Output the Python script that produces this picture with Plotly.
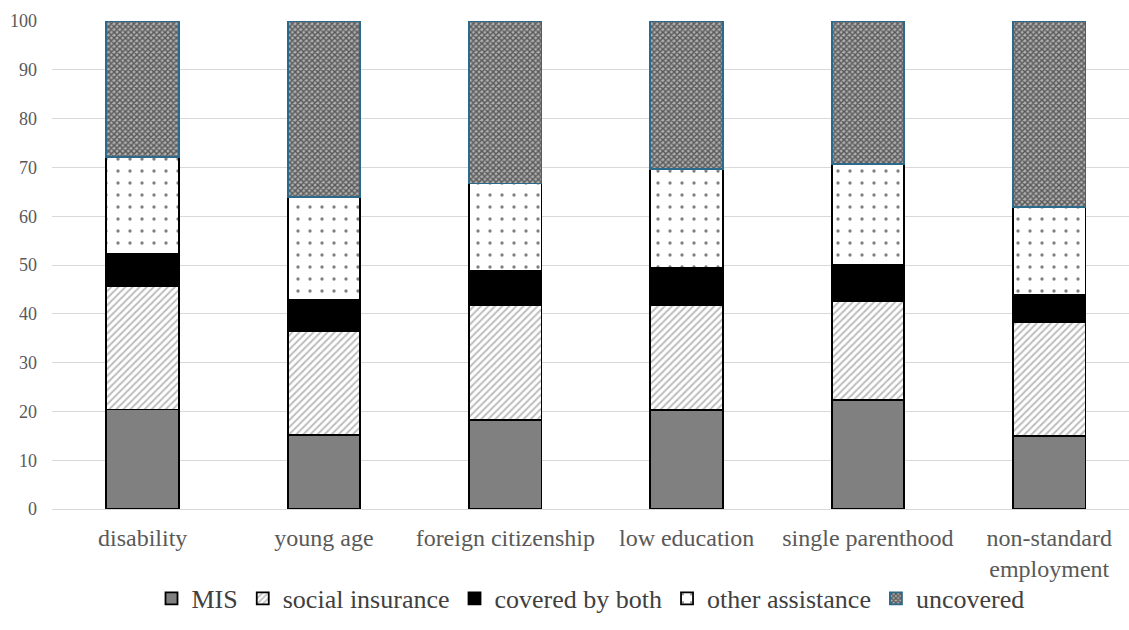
import plotly.graph_objects as go

# Groups of people and the share of each covered by the different schemes (%)
groups = ["disability", "young age", "foreign citizenship", "low education",
          "single parenthood", "non-standard<br>employment"]

mis = [20.4, 15.2, 18.2, 20.3, 22.3, 15.0]
social_insurance = [25.2, 21.3, 23.6, 21.4, 20.4, 23.2]
covered_by_both = [6.7, 6.3, 7.0, 7.7, 7.3, 5.7]
other_assistance = [19.9, 21.2, 17.9, 20.2, 20.7, 18.0]
uncovered = [27.8, 36.0, 33.3, 30.4, 29.3, 38.1]

font_family = "Liberation Serif"
bar_width = 0.4

fig = go.Figure()

fig.add_trace(go.Bar(
    name="MIS", x=groups, y=mis, width=bar_width,
    marker=dict(color="#808080", line=dict(color="#000000", width=1.8)),
))
fig.add_trace(go.Bar(
    name="social insurance", x=groups, y=social_insurance, width=bar_width,
    marker=dict(
        color="#ffffff", line=dict(color="#000000", width=1.8),
        pattern=dict(shape="/", fgcolor="#7a7a7a", bgcolor="#ffffff",
                     size=5, solidity=0.4, fillmode="overlay"),
    ),
))
fig.add_trace(go.Bar(
    name="covered by both", x=groups, y=covered_by_both, width=bar_width,
    marker=dict(color="#000000", line=dict(color="#000000", width=1.8)),
))
fig.add_trace(go.Bar(
    name="other assistance", x=groups, y=other_assistance, width=bar_width,
    marker=dict(
        color="#ffffff", line=dict(color="#000000", width=1.8),
        pattern=dict(shape=".", fgcolor="#000000", bgcolor="#ffffff",
                     size=12, solidity=0.06, fillmode="overlay"),
    ),
))
fig.add_trace(go.Bar(
    name="uncovered", x=groups, y=uncovered, width=bar_width,
    marker=dict(
        color="#ffffff", line=dict(color="#2b6a8a", width=1.8),
        pattern=dict(shape="x", fgcolor="#000000", bgcolor="#b0b0b0",
                     size=4, solidity=0.6, fillmode="overlay"),
    ),
))

fig.update_layout(
    barmode="stack",
    width=1129, height=630,
    margin=dict(l=52, r=0, t=21, b=121),
    paper_bgcolor="#ffffff", plot_bgcolor="#ffffff",
    font=dict(family=font_family, size=18, color="#595959"),
    showlegend=True,
    legend=dict(
        orientation="h", x=0.5, xanchor="center", y=-0.135, yanchor="top",
        bgcolor="rgba(0,0,0,0)",
        font=dict(family=font_family, size=26, color="#404040"),
        traceorder="normal", itemwidth=30,
    ),
    xaxis=dict(
        range=[-0.5, 5.44], showgrid=False, showline=False, ticks="",
        ticklabelstandoff=12,
        tickfont=dict(family=font_family, size=24, color="#595959"),
    ),
    yaxis=dict(
        range=[0, 100], dtick=10, showgrid=True, gridcolor="#d9d9d9",
        gridwidth=1, zeroline=True, zerolinecolor="#d9d9d9", zerolinewidth=1,
        showline=False, ticks="", ticklabelstandoff=14,
        tickfont=dict(family=font_family, size=18, color="#595959"),
    ),
)

fig.write_html("out.html")
